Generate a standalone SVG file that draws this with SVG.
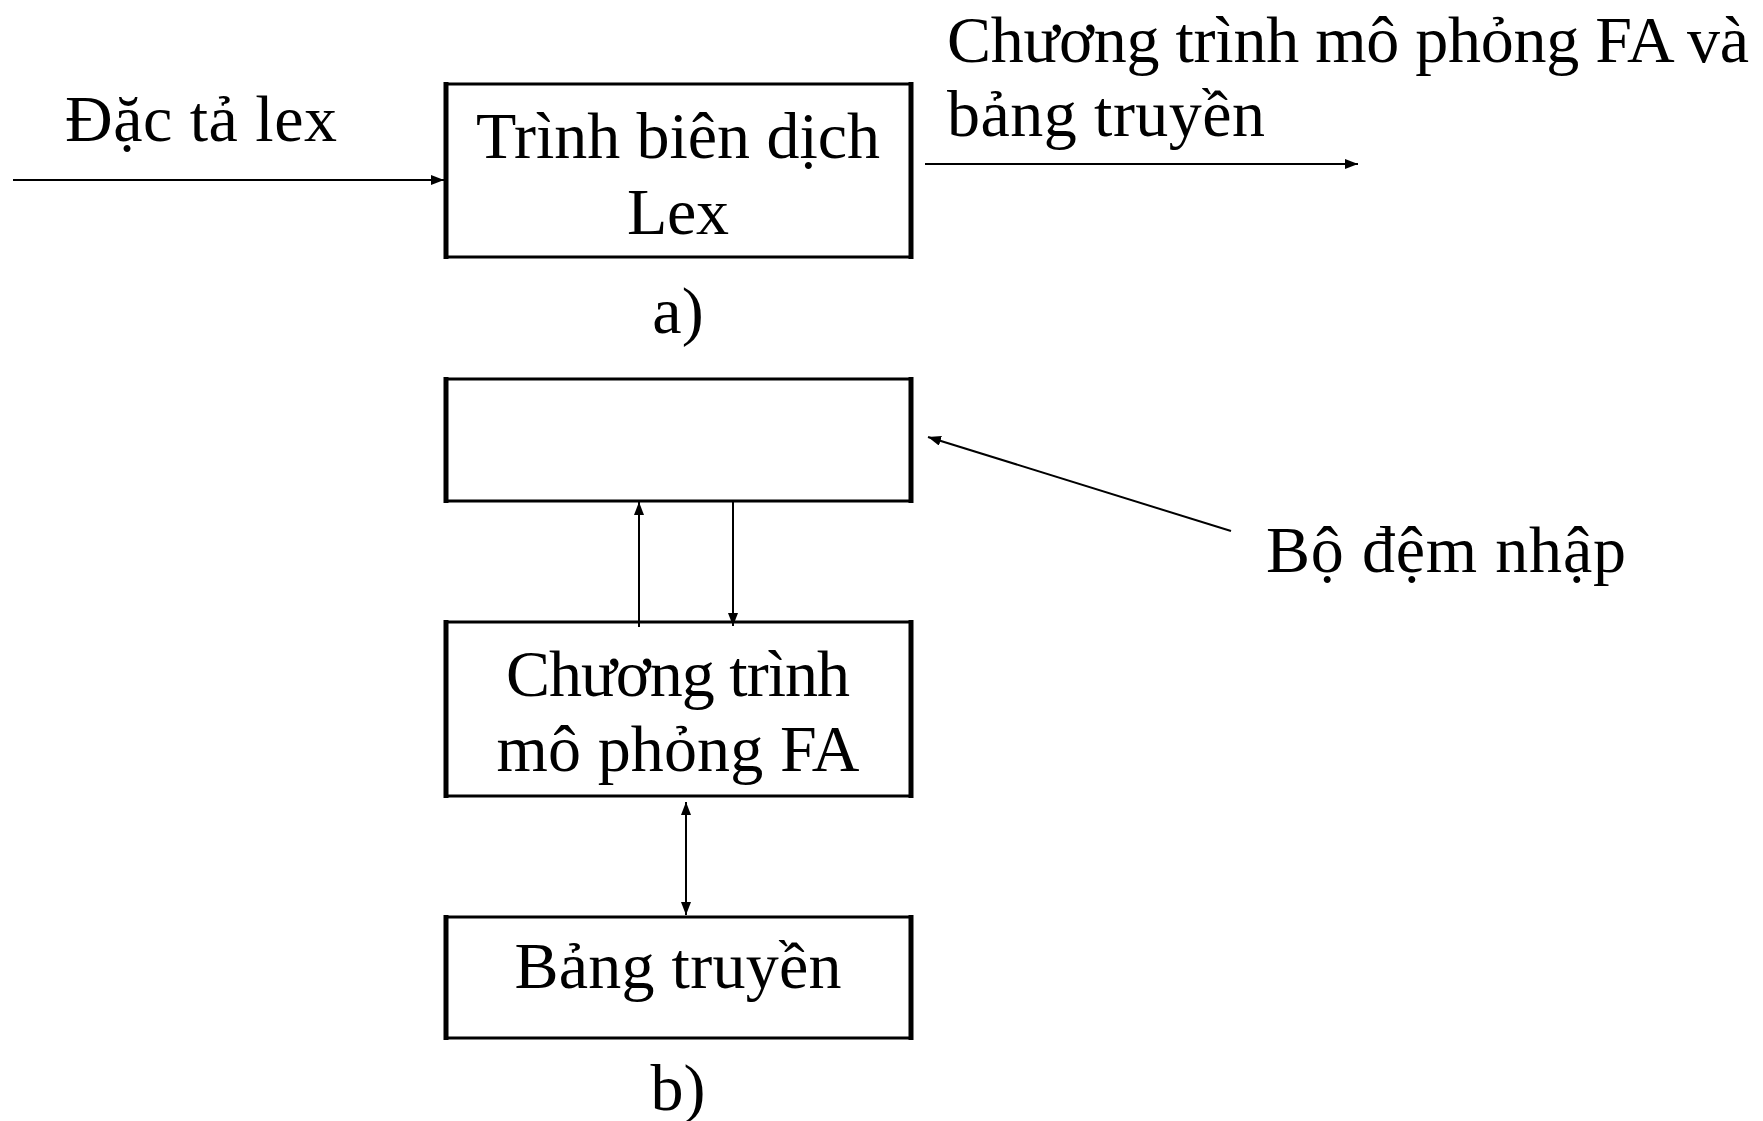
<svg xmlns="http://www.w3.org/2000/svg" width="1763" height="1121" viewBox="0 0 1763 1121">
  <style>
    text { font-family: "Liberation Serif", "Times New Roman", serif; fill: #000; }
    .lbl { font-size: 66px; }
    .mid { text-anchor: middle; }
    .hline { stroke: #000; stroke-width: 3; fill: none; }
    .vline { stroke: #000; stroke-width: 5; fill: none; }
    .conn { stroke: #000; stroke-width: 2; fill: none; }
  </style>
  <defs>
    <marker id="arrow" viewBox="0 0 13 10" refX="13" refY="5" markerWidth="13" markerHeight="10" markerUnits="userSpaceOnUse" orient="auto-start-reverse">
      <path d="M0,0 L13,5 L0,10 Z" fill="#000"/>
    </marker>
  </defs>
  <rect width="1763" height="1121" fill="#fff"/>

  <!-- part a) -->
  <g id="lex-compiler">
    <path class="hline" d="M446,84 H911 M446,257 H911"/>
    <path class="vline" d="M446,82 V259 M911,82 V259"/>
    <text class="lbl mid" x="678" y="158" textLength="404" lengthAdjust="spacing">Trình biên dịch</text>
    <text class="lbl mid" x="678" y="234" textLength="102" lengthAdjust="spacing">Lex</text>
  </g>
  <g id="lex-spec-label">
    <text class="lbl" x="65" y="141" textLength="272" lengthAdjust="spacing">Đặc tả lex</text>
  </g>
  <g id="output-label">
    <text class="lbl" x="947" y="62" textLength="802" lengthAdjust="spacing">Chương trình mô phỏng FA và</text>
    <text class="lbl" x="947" y="136" textLength="318" lengthAdjust="spacing">bảng truyền</text>
  </g>
  <g id="caption-a">
    <text class="lbl mid" x="678" y="333">a)</text>
  </g>

  <!-- part b) -->
  <g id="input-buffer">
    <path class="hline" d="M446,379 H911 M446,501 H911"/>
    <path class="vline" d="M446,377 V503 M911,377 V503"/>
  </g>
  <g id="fa-simulator">
    <path class="hline" d="M446,622 H911 M446,796 H911"/>
    <path class="vline" d="M446,620 V798 M911,620 V798"/>
    <text class="lbl mid" x="678" y="696" textLength="344" lengthAdjust="spacing">Chương trình</text>
    <text class="lbl mid" x="678" y="771" textLength="363" lengthAdjust="spacing">mô phỏng FA</text>
  </g>
  <g id="transition-table">
    <path class="hline" d="M446,917 H911 M446,1038 H911"/>
    <path class="vline" d="M446,915 V1040 M911,915 V1040"/>
    <text class="lbl mid" x="678" y="988" textLength="327" lengthAdjust="spacing">Bảng truyền</text>
  </g>
  <g id="buffer-label">
    <text class="lbl" x="1266" y="572" textLength="360" lengthAdjust="spacing">Bộ đệm nhập</text>
  </g>
  <g id="caption-b">
    <text class="lbl mid" x="678" y="1110">b)</text>
  </g>

  <g id="connectors">
    <line class="conn" x1="13" y1="180" x2="444" y2="180" marker-end="url(#arrow)"/>
    <line class="conn" x1="925" y1="164" x2="1358" y2="164" marker-end="url(#arrow)"/>
    <line class="conn" x1="1231" y1="531" x2="928" y2="437" marker-end="url(#arrow)"/>
    <line class="conn" x1="639" y1="627" x2="639" y2="502" marker-end="url(#arrow)"/>
    <line class="conn" x1="733" y1="501" x2="733" y2="626" marker-end="url(#arrow)"/>
    <line class="conn" x1="686" y1="802" x2="686" y2="915" marker-start="url(#arrow)" marker-end="url(#arrow)"/>
  </g>
</svg>
